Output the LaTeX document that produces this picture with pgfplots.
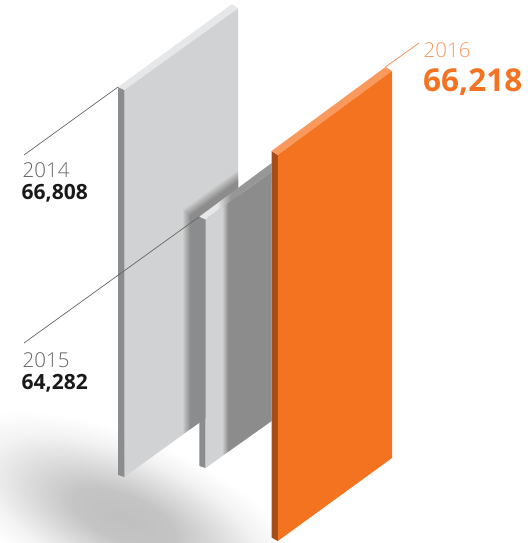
\documentclass[border=0pt]{standalone}
\usepackage{pgfplots}
\pgfplotsset{compat=1.18}
\usepackage{fontspec}
\setmainfont{Open Sans}
\newfontfamily\lightf{Open Sans}[UprightFont=* Light]
\definecolor{gFront}{HTML}{D1D2D4}
\definecolor{gTop}{HTML}{E6E7E8}
\definecolor{gSide}{HTML}{8A8C8E}
\definecolor{dk}{HTML}{8C8C8C}
\definecolor{oFront}{HTML}{F47321}
\definecolor{oTop}{HTML}{F9995C}
\definecolor{oSide}{HTML}{A64C17}
\definecolor{oLine}{HTML}{F58A4A}
\definecolor{oYear}{HTML}{F59A63}
\pgfdeclarehorizontalshading{midfront}{100bp}{color(0bp)=(gFront); color(37.5bp)=(gFront); color(42bp)=(dk); color(100bp)=(dk)}
\pgfdeclarehorizontalshading{midtop}{100bp}{color(0bp)=(gTop); color(37.4bp)=(gTop); color(46.3bp)=(dk!90!white); color(100bp)=(dk!90!white)}
\pgfdeclareradialshading{gs}{\pgfpoint{0bp}{0bp}}{color(0bp)=(black!25); color(7bp)=(black!23); color(13bp)=(black!14); color(19bp)=(black!5); color(25bp)=(white); color(50bp)=(white)}
\begin{document}
\begin{tikzpicture}
\useasboundingbox (0,0) rectangle (527pt,543pt);
\begin{axis}[
  anchor=south west, at={(0,0)},
  scale only axis, width=527pt, height=543pt,
  xmin=0, xmax=527, ymin=0, ymax=543, y dir=reverse,
  axis lines=none, clip=true, every axis plot/.append style={draw=none}
]
\pgfplotsextra{
  \begin{scope}[transform canvas={shift={(axis cs:124,518)},rotate=-23,yscale=.42}]
    \shade[shading=gs,overlay] (0,0) circle (195pt);
  \end{scope}
}
% 2014
\addplot[fill=gSide] coordinates {(118,87)(124.5,90)(124.5,477)(118,475)} --cycle;
\addplot[fill=gTop] coordinates {(118,87)(232,4)(238,8.5)(124.5,90)} --cycle;
\addplot[fill=gFront] coordinates {(124.5,90)(238,8.5)(238,394.8)(124.5,476.7)} --cycle;
\pgfplotsextra{
  \foreach \i in {0,...,9}{
    \pgfmathsetmacro\o{1/(10-\i)}
    \pgfmathsetmacro\xa{183+\i*.8}
    \pgfmathsetmacro\ya{207+\i*1.2-.72*(\xa-187)}
    \pgfmathsetmacro\yb{207+\i*1.2-.72*(238-187)}
    \pgfmathsetmacro\yc{476.7-.715*(\xa-123.5)}
    \fill[dk,fill opacity=\o] (axis cs:\xa,\ya)--(axis cs:238,\yb)--(axis cs:238,394.8)--(axis cs:\xa,\yc)--cycle;
  }
}
% 2015
\addplot[fill=gSide] coordinates {(199.3,216.7)(205.5,219.5)(205.5,468)(199.3,466)} --cycle;
\addplot[shading=midtop] coordinates {(199.3,216.7)(271.7,163)(271.7,172)(205.5,219.5)} --cycle;
\addplot[shading=midfront] coordinates {(205.5,219.5)(271.7,172)(271.7,421)(205.5,468)} --cycle;
% 2016
\addplot[fill=oSide] coordinates {(271.5,151)(277.8,155)(277.8,541)(271.5,537.5)} --cycle;
\addplot[fill=oTop] coordinates {(271.5,151)(385.5,67)(392,71)(277.8,155)} --cycle;
\addplot[fill=oFront] coordinates {(277.8,155)(392,71)(392,458)(277.8,541)} --cycle;
% leaders
\addplot[draw=black!60,line width=.7pt] coordinates {(24,155)(118,87)};
\addplot[draw=black!60,line width=.7pt] coordinates {(24,343)(199.3,216.7)};
\addplot[draw=oLine,line width=.7pt] coordinates {(385.5,67)(419,43)};
% labels
\node[anchor=base west,inner sep=0pt,text=black!60,font=\lightf\fontsize{20.5}{20.5}\selectfont] at (axis cs:22.5,177.5) {2014};
\node[anchor=base west,inner sep=0pt,text=black!90,font=\bfseries\fontsize{21}{21}\selectfont] at (axis cs:21.5,199) {66,808};
\node[anchor=base west,inner sep=0pt,text=black!60,font=\lightf\fontsize{20.5}{20.5}\selectfont] at (axis cs:22.5,367.5) {2015};
\node[anchor=base west,inner sep=0pt,text=black!90,font=\bfseries\fontsize{21}{21}\selectfont] at (axis cs:21.5,389) {64,282};
\node[anchor=base west,inner sep=0pt,text=oYear,font=\lightf\fontsize{20.5}{20.5}\selectfont] at (axis cs:423.5,57.5) {2016};
\node[anchor=base west,inner sep=0pt,text=oFront,font=\bfseries\fontsize{31.5}{31.5}\selectfont] at (axis cs:423,91) {66,218};
\end{axis}
\end{tikzpicture}
\end{document}
